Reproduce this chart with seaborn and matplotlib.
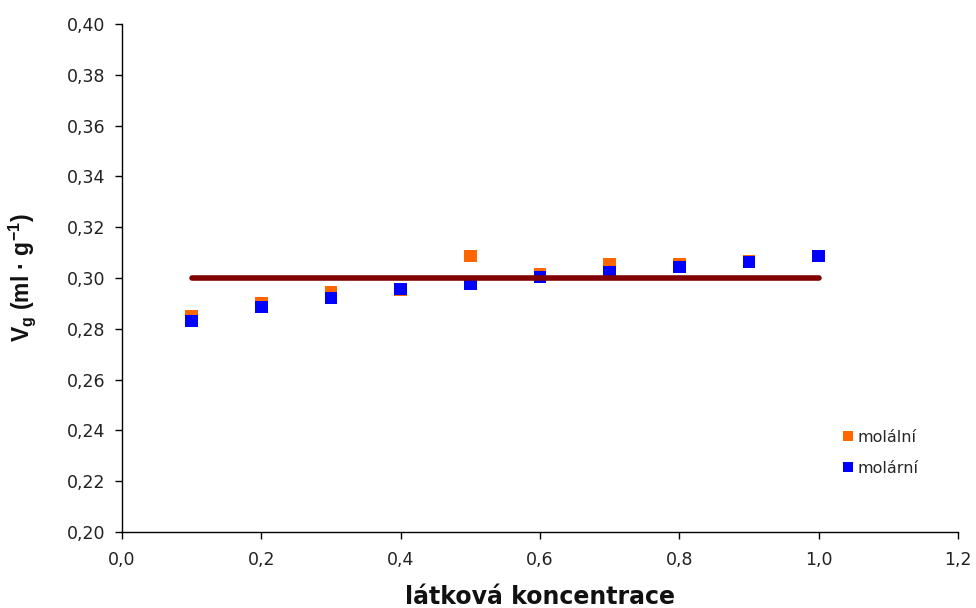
import matplotlib
matplotlib.use("Agg")
import matplotlib.pyplot as plt
import seaborn as sns
import pandas as pd
from matplotlib.ticker import FuncFormatter

conc = [0.1, 0.2, 0.3, 0.4, 0.5, 0.6, 0.7, 0.8, 0.9, 1.0]
molalni = [0.2848, 0.2900, 0.2945, 0.2953, 0.3087, 0.3015, 0.3054, 0.3054, 0.3067, 0.3087]
molarni = [0.2831, 0.2886, 0.2921, 0.2957, 0.2976, 0.3003, 0.3022, 0.3043, 0.3063, 0.3087]
ref_x = [0.1, 1.0]
ref_y = [0.30, 0.30]

sns.set_theme(style="white")
plt.rcParams["font.family"] = ["DejaVu Sans"]
plt.rcParams["mathtext.default"] = "regular"

df = pd.DataFrame({
    "c": conc * 2,
    "v": molalni + molarni,
    "serie": ["molální"] * len(conc) + ["molární"] * len(conc),
})

fig = plt.figure(figsize=(9.76, 6.08), dpi=100)
ax = fig.add_axes([0.125, 0.125, 0.8566, 0.8355])

sns.lineplot(x=ref_x, y=ref_y, ax=ax, color="#800000", linewidth=4,
             solid_capstyle="round", legend=False)
sns.scatterplot(data=df, x="c", y="v", hue="serie", ax=ax,
                palette={"molální": "#FF6600", "molární": "#0000FF"},
                marker="s", s=80, linewidth=0)

ax.set_xlim(0, 1.2)
ax.set_ylim(0.20, 0.40)
ax.set_xticks([0, 0.2, 0.4, 0.6, 0.8, 1.0, 1.2])
ax.set_yticks([0.20 + 0.02 * i for i in range(11)])
ax.xaxis.set_major_formatter(FuncFormatter(lambda v, p: f"{v:.1f}".replace(".", ",")))
ax.yaxis.set_major_formatter(FuncFormatter(lambda v, p: f"{v:.2f}".replace(".", ",")))
ax.tick_params(axis="both", direction="out", length=5, width=1, color="black",
               labelsize=12.5, labelcolor="#222222", bottom=True, left=True)
ax.tick_params(axis="x", pad=9)
ax.tick_params(axis="y", pad=7)

for s in ["top", "right"]:
    ax.spines[s].set_visible(False)
for s in ["left", "bottom"]:
    ax.spines[s].set_color("black")
    ax.spines[s].set_linewidth(1)

ax.set_xlabel("látková koncentrace", fontsize=17, fontweight="bold", color="#111111")
ax.xaxis.set_label_coords(0.5, -0.105)
ax.set_ylabel("V$_g$ (ml · g$^{-1}$)", fontsize=16.5, fontweight="bold",
              family="Liberation Sans", color="#111111")
ax.yaxis.set_label_coords(-0.10, 0.5)

leg = ax.legend(loc="upper left", bbox_to_anchor=(0.84, 0.23), frameon=False,
                fontsize=11.5, markerscale=0.8, handletextpad=0.0,
                labelspacing=1.0, handlelength=1.2, title=None)

fig.savefig("out.png", dpi=100)
